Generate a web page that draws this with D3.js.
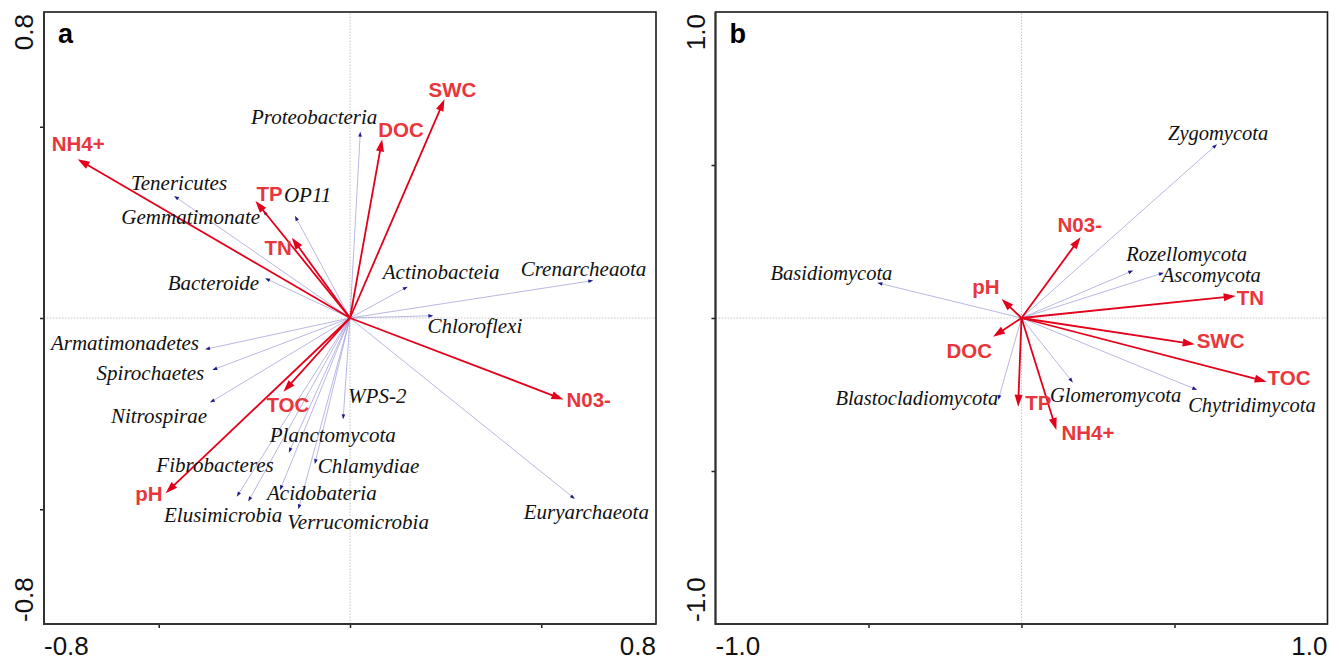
<!DOCTYPE html>
<html>
<head>
<meta charset="utf-8">
<script src="https://cdn.jsdelivr.net/npm/d3@7/dist/d3.min.js"></script>
<style>
  html, body { margin: 0; padding: 0; background: #fff; }
  svg { display: block; }
</style>
</head>
<body>
<svg id="chart" width="1339" height="661"></svg>
<script>
// ---- Panel a: bacterial phyla (RDA species scores) ----
const bacNames = ["Proteobacteria", "Tenericutes", "Gemmatimonate", "OP11", "Bacteroide",
  "Actinobacteia", "Crenarcheaota", "Chloroflexi", "Armatimonadetes", "Spirochaetes",
  "Nitrospirae", "WPS-2", "Planctomycota", "Fibrobacteres", "Chlamydiae",
  "Acidobateria", "Verrucomicrobia", "Elusimicrobia", "Euryarchaeota"];
const bacX = [0.027, -0.460, -0.227, -0.144, -0.222, 0.151, 0.636, 0.218, -0.379, -0.360,
  -0.366, -0.018, -0.160, -0.296, -0.092, -0.183, -0.135, -0.266, 0.588];
const bacY = [0.487, 0.319, 0.281, 0.267, 0.104, 0.082, 0.098, 0.006, -0.082, -0.136,
  -0.221, -0.265, -0.352, -0.467, -0.382, -0.450, -0.500, -0.480, -0.473];

// ---- Panel a: environmental factors ----
const envNamesA = ["NH4+", "TP", "TN", "DOC", "SWC", "N03-", "TOC", "pH"];
const envXA = [-0.712, -0.247, -0.152, 0.084, 0.247, 0.558, -0.174, -0.482];
const envYA = [0.415, 0.306, 0.210, 0.467, 0.572, -0.213, -0.193, -0.458];

// ---- Panel b: fungal phyla ----
const funNames = ["Zygomycota", "Rozellomycota", "Ascomycota", "Basidiomycota",
  "Blastocladiomycota", "Glomeromycota", "Chytridimycota"];
const funX = [0.639, 0.365, 0.465, -0.471, -0.076, 0.168, 0.574];
const funY = [0.568, 0.155, 0.148, 0.115, -0.268, -0.211, -0.235];

// ---- Panel b: environmental factors ----
const envNamesB = ["N03-", "TN", "SWC", "TOC", "TP", "NH4+", "pH", "DOC"];
const envXB = [0.193, 0.700, 0.566, 0.801, -0.011, 0.114, -0.065, -0.093];
const envYB = [0.264, 0.072, -0.086, -0.208, -0.290, -0.366, 0.062, -0.061];

// ---- Axis extents and tick values ----
const limitA = 0.8, limitB = 1.0;
const ticksA = [-0.5, 0, 0.5];
const ticksB = [-0.5, 0, 0.5];
const endLabelsA = ["-0.8", "0.8"];
const endLabelsB = ["-1.0", "1.0"];

// Label placement relative to arrow tips (px): [dx, dy, anchor]
const labelLayoutA = {
  "Proteobacteria": [17, -15, "end"], "Tenericutes": [-43, -13, "start"],
  "Gemmatimonate": [-3, 7, "end"], "OP11": [-11, -21, "start"],
  "Bacteroide": [-6, 5, "end"], "Actinobacteia": [-25, -15, "start"],
  "Crenarcheaota": [53, -11, "end"], "Chloroflexi": [-6, 10, "start"],
  "Armatimonadetes": [-6, -6, "end"], "Spirochaetes": [-8, 3, "end"],
  "Nitrospirae": [-3, 14, "end"], "WPS-2": [5, -23, "start"],
  "Planctomycota": [-19, -18, "start"], "Fibrobacteres": [37, -32, "end"],
  "Chlamydiae": [3, 2, "start"], "Acidobateria": [-13, 3, "start"],
  "Verrucomicrobia": [-11, 13, "start"], "Elusimicrobia": [34, 13, "end"],
  "Euryarchaeota": [74, 13, "end"]
};
const envLayoutA = {
  "NH4+": [-26, -16, "start"], "TP": [1, -7, "start"], "TN": [0, 10, "end"],
  "DOC": [-4, -10, "start"], "SWC": [-16, -10, "start"], "N03-": [3, 0, "start"],
  "TOC": [-17, 13, "start"], "pH": [-3, 0, "end"]
};
const labelLayoutB = {
  "Zygomycota": [-49, -11, "start"], "Rozellomycota": [-7, -16, "start"],
  "Ascomycota": [-2, 3, "start"], "Basidiomycota": [15, -10, "end"],
  "Blastocladiomycota": [0, -2, "end"], "Glomeromycota": [-23, 13, "start"],
  "Chytridimycota": [-9, 15, "start"]
};
const envLayoutB = {
  "N03-": [-23, -13, "start"], "TN": [1, 2, "start"], "SWC": [2, -4, "start"],
  "TOC": [1, -4, "start"], "TP": [7, -4, "start"], "NH4+": [5, 3, "start"],
  "pH": [-2, -12, "end"], "DOC": [-1, 14, "end"]
};

const svg = d3.select("#chart");
const RED_LINE = "#e3001b";
const RED_TEXT = "#e8373c";
const SPECIES_LINE = "#9a9ad6";
const SPECIES_HEAD = "#1b1b86";

function arrow(g, x0, y0, x1, y1, headLen, headW, lineColor, headColor, lineW) {
  const dx = x1 - x0, dy = y1 - y0;
  const len = Math.hypot(dx, dy);
  const ux = dx / len, uy = dy / len;
  const bx = x1 - ux * headLen, by = y1 - uy * headLen;
  g.append("line")
    .attr("x1", x0).attr("y1", y0).attr("x2", bx + ux * 1).attr("y2", by + uy * 1)
    .attr("stroke", lineColor).attr("stroke-width", lineW);
  const px = -uy * headW / 2, py = ux * headW / 2;
  g.append("path")
    .attr("d", `M${x1},${y1}L${bx + px},${by + py}L${bx - px},${by - py}Z`)
    .attr("fill", headColor);
}

function panel(opts) {
  const { left, top, width, height, limit, ticks, endLabels, letter,
          spNames, spX, spY, spLayout, spFont,
          envNames, envX, envY, envLayout } = opts;
  const x = d3.scaleLinear().domain([-limit, limit]).range([left, left + width]);
  const y = d3.scaleLinear().domain([-limit, limit]).range([top + height, top]);
  const g = svg.append("g");

  // zero reference lines
  g.append("line").attr("x1", x(-limit)).attr("x2", x(limit)).attr("y1", y(0)).attr("y2", y(0))
    .attr("stroke", "#b8b8b8").attr("stroke-width", 0.8).attr("stroke-dasharray", "1.5,1.5");
  g.append("line").attr("y1", y(-limit)).attr("y2", y(limit)).attr("x1", x(0)).attr("x2", x(0))
    .attr("stroke", "#b8b8b8").attr("stroke-width", 0.8).attr("stroke-dasharray", "1.5,1.5");

  // axes ticks (labels only at the extremes)
  const ax = g.append("g").attr("transform", `translate(0,${top + height})`)
    .call(d3.axisBottom(x).tickValues(ticks).tickSize(4).tickFormat(""));
  const ay = g.append("g").attr("transform", `translate(${left},0)`)
    .call(d3.axisLeft(y).tickValues(ticks).tickSize(4).tickFormat(""));
  [ax, ay].forEach(a => {
    a.select(".domain").remove();
    a.selectAll(".tick line").attr("stroke", "#222").attr("stroke-width", 1.5);
  });

  // frame
  g.append("rect").attr("x", left).attr("y", top).attr("width", width).attr("height", height)
    .attr("fill", "none").attr("stroke", "#1a1a1a").attr("stroke-width", 1.6);
  // heavier left and bottom axis lines
  g.append("path")
    .attr("d", `M${left},${top}V${top + height}H${left + width}`)
    .attr("fill", "none").attr("stroke", "#333").attr("stroke-width", 2);

  const tickFont = "'Liberation Sans', Arial, sans-serif";
  g.append("text").attr("x", x(-limit)).attr("y", top + height + 31)
    .attr("font-family", tickFont).attr("font-size", 26).attr("fill", "#111")
    .attr("text-anchor", "start").text(endLabels[0]);
  g.append("text").attr("x", x(limit)).attr("y", top + height + 31)
    .attr("font-family", tickFont).attr("font-size", 26).attr("fill", "#111")
    .attr("text-anchor", "end").text(endLabels[1]);
  g.append("text").attr("transform", `translate(${left - 11},${y(-limit) - 2}) rotate(-90)`)
    .attr("font-family", tickFont).attr("font-size", 26).attr("fill", "#111")
    .attr("text-anchor", "start").text(endLabels[0]);
  g.append("text").attr("transform", `translate(${left - 11},${y(limit) + 2}) rotate(-90)`)
    .attr("font-family", tickFont).attr("font-size", 26).attr("fill", "#111")
    .attr("text-anchor", "end").text(endLabels[1]);

  // panel letter
  g.append("text").attr("x", left + 14).attr("y", top + 31)
    .attr("font-family", tickFont).attr("font-weight", "bold").attr("font-size", 27)
    .attr("fill", "#000").text(letter);

  // species arrows
  const sp = g.append("g");
  spNames.forEach((n, i) => {
    arrow(sp, x(0), y(0), x(spX[i]), y(spY[i]), 5, 3.6, SPECIES_LINE, SPECIES_HEAD, 0.7);
  });

  // environmental arrows
  const env = g.append("g");
  envNames.forEach((n, i) => {
    arrow(env, x(0), y(0), x(envX[i]), y(envY[i]), 12, 8, RED_LINE, RED_LINE, 1.8);
  });

  // species labels
  spNames.forEach((n, i) => {
    const [dx, dy, anchor] = spLayout[n];
    g.append("text").attr("x", x(spX[i]) + dx).attr("y", y(spY[i]) + dy).attr("dy", "0.33em")
      .attr("text-anchor", anchor)
      .attr("font-family", "'Liberation Serif', 'Times New Roman', serif")
      .attr("font-style", "italic").attr("font-size", spFont).attr("fill", "#111").text(n);
  });

  // environmental labels
  envNames.forEach((n, i) => {
    const [dx, dy, anchor] = envLayout[n];
    g.append("text").attr("x", x(envX[i]) + dx).attr("y", y(envY[i]) + dy).attr("dy", "0.36em")
      .attr("text-anchor", anchor)
      .attr("font-family", "'Liberation Sans', Arial, sans-serif")
      .attr("font-weight", "bold").attr("font-size", 20.5).attr("fill", RED_TEXT).text(n);
  });
}

panel({
  left: 44, top: 12, width: 612, height: 612, limit: limitA, ticks: ticksA,
  endLabels: endLabelsA, letter: "a",
  spNames: bacNames, spX: bacX, spY: bacY, spLayout: labelLayoutA, spFont: 21,
  envNames: envNamesA, envX: envXA, envY: envYA, envLayout: envLayoutA
});
panel({
  left: 715.5, top: 12, width: 612, height: 612, limit: limitB, ticks: ticksB,
  endLabels: endLabelsB, letter: "b",
  spNames: funNames, spX: funX, spY: funY, spLayout: labelLayoutB, spFont: 20.5,
  envNames: envNamesB, envX: envXB, envY: envYB, envLayout: envLayoutB
});
</script>
</body>
</html>
